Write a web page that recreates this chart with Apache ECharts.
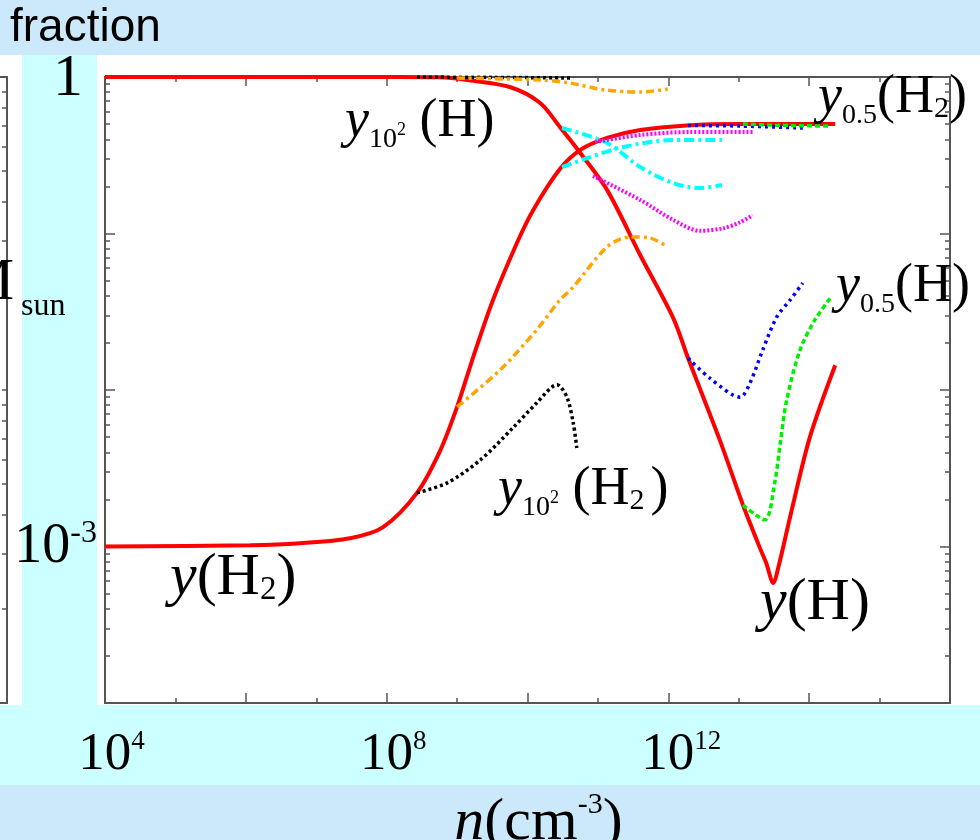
<!DOCTYPE html>
<html><head><meta charset="utf-8">
<script src="https://cdn.jsdelivr.net/npm/echarts@6/dist/echarts.min.js"></script>
<style>html,body{margin:0;padding:0;background:#fff}#c{width:980px;height:840px}</style>
</head><body><div id="c"></div>
<script>
// Each point: [log10 n (cm^-3), fraction]
const y_H2 = [[4.00,1.00e-3],[6.06,1.02e-3],[6.77,1.05e-3],[7.48,1.13e-3],[7.95,1.33e-3],[8.43,2.2e-3],[8.76,4.1e-3],[9.00,7.8e-3],[9.23,1.63e-2],[9.51,3.76e-2],[9.85,8.7e-2],[10.08,0.141],[10.46,0.258],[10.75,0.342],[11.13,0.408],[11.60,0.458],[12.26,0.490],[13.02,0.500],[14.37,0.500]];
const y_H = [[4.00,1.0],[8.19,1.0],[8.75,0.995],[9.14,0.957],[9.75,0.863],[10.18,0.682],[10.46,0.479],[10.75,0.327],[11.13,0.190],[11.60,0.0729],[12.07,0.0288],[12.28,0.0160],[12.73,4.8e-3],[13.06,1.84e-3],[13.30,9.8e-4],[13.39,7.85e-4],[13.49,5.85e-4],[13.57,7.6e-4],[13.73,1.55e-3],[14.01,5.0e-3],[14.37,1.44e-2]];
const black_H = [[8.43,1.0],[9.50,0.995],[10.65,0.985]];
const black_H2 = [[8.43,2.20e-3],[8.86,2.55e-3],[9.33,3.57e-3],[9.79,5.71e-3],[10.13,8.26e-3],[10.42,1.08e-2],[10.56,9.0e-3],[10.65,6.15e-3],[10.70,4.26e-3]];
const orange_H = [[9.00,0.985],[10.18,0.957],[10.60,0.916],[11.10,0.826],[11.60,0.802],[11.99,0.838]];
const orange_H2 = [[9.00,7.8e-3],[9.61,0.0134],[10.13,0.0242],[10.46,0.0376],[10.65,0.0455],[11.13,0.082],[11.46,0.095],[11.74,0.0936],[11.99,0.082]];
const cyan_H = [[10.49,0.472],[11.13,0.379],[11.60,0.266],[12.07,0.210],[12.45,0.195],[12.76,0.204]];
const cyan_H2 = [[10.49,0.266],[10.89,0.308],[11.36,0.357],[12.07,0.396],[12.76,0.396]];
const magenta_H2 = [[10.96,0.384],[11.60,0.426],[12.31,0.445],[13.20,0.445]];
const magenta_H = [[10.93,0.233],[11.60,0.164],[12.07,0.122],[12.45,0.104],[12.78,0.108],[13.02,0.118],[13.20,0.131]];
const blue_H2 = [[12.28,0.49],[13.02,0.486],[13.91,0.472]];
const blue_H = [[12.28,0.016],[12.59,0.0119],[13.02,9.0e-3],[13.16,0.0111],[13.34,0.018],[13.54,0.0293],[13.73,0.0376],[13.91,0.0483]];
const green_H2 = [[13.06,0.5],[13.70,0.49],[14.30,0.486]];
const green_H = [[13.06,1.84e-3],[13.37,1.48e-3],[13.51,2.55e-3],[13.59,4.58e-3],[13.68,8.6e-3],[13.87,0.018],[14.08,0.028],[14.30,0.0387]];

const xTickExp = [4, 8, 12];        // labelled x ticks: 10^4, 10^8, 10^12
const yTickExp = [0, -3];           // labelled y ticks: 1, 10^-3
const yMinorTicks = [];
for (let d = -4; d < 0; d++) for (let k = 2; k <= 9; k++) yMinorTicks.push(d + Math.log10(k));
const leftPlotTicks = [1];
for (let d = 0; d < 2; d++) for (let k = 2; k <= 9; k++) leftPlotTicks.push(d + Math.log10(k));

const serif = "'Liberation Serif','Times New Roman',serif";
const AX = '#555';

function mk(name, pts, color, width, type) {
  return {
    type: 'line', name, xAxisIndex: 0, yAxisIndex: 0,
    data: pts.map(p => [p[0], Math.log10(p[1])]),
    showSymbol: false, smooth: 0.3, silent: true,
    lineStyle: { color, width, type, cap: 'butt' }
  };
}

const series = [
  mk('y(H2)', y_H2, '#ff0000', 4, 'solid'),
  mk('y(H)', y_H, '#ff0000', 4, 'solid'),
  mk('y_1e2(H)', black_H, '#000000', 3.5, [3, 3]),
  mk('y_1e2(H2)', black_H2, '#000000', 3.5, [3, 3]),
  mk('orange H', orange_H, '#ffa500', 3.5, [8, 4, 3, 4]),
  mk('orange H2', orange_H2, '#ffa500', 3.5, [8, 4, 3, 4]),
  mk('cyan H', cyan_H, '#00ffff', 4, [10, 4, 3, 4]),
  mk('cyan H2', cyan_H2, '#00ffff', 4, [10, 4, 3, 4]),
  mk('magenta H2', magenta_H2, '#ff00ff', 4, [2, 2]),
  mk('magenta H', magenta_H, '#ff00ff', 4, [2, 2]),
  mk('y_0.5(H2) blue', blue_H2, '#0000ff', 3.5, [3, 4]),
  mk('y_0.5(H) blue', blue_H, '#0000ff', 3.5, [3, 4]),
  mk('y_0.5(H2) green', green_H2, '#00ee00', 3.5, [5, 3]),
  mk('y_0.5(H) green', green_H, '#00ee00', 3.5, [5, 3])
];

const tickLine = { color: AX, width: 1.5 };
const noLabel = { show: false };
const noSplit = { show: false };
const frameLine = { show: true, onZero: false, lineStyle: { color: AX, width: 2 } };

const chart = echarts.init(document.getElementById('c'), null, { renderer: 'canvas' });
const T = (o) => Object.assign({ fontFamily: serif, verticalAlign: 'top', lineHeight: 64, fill: '#000', color: '#000' }, o);
function annRich(f) {
  const k = f / 54;
  return {
    it: T({ fontStyle: 'italic', fontSize: f }),
    rm: T({ fontSize: f }),
    rp: T({ fontSize: f, padding: [0, 0, 0, Math.round(6 * k)] }),
    sub: T({ fontSize: Math.round(28 * k), padding: [Math.round(31 * k), 0, 0, 0] }),
    sup: T({ fontSize: Math.round(18 * k), padding: [Math.round(26 * k), 0, 0, 0] }),
    sub2: T({ fontSize: Math.round(30 * k), padding: [Math.round(23 * k), 0, 0, 0] })
  };
}
function ann(x, y, text, f) {
  const fs = f || 54;
  return { type: 'text', x, y: y + 32 - fs / 2, z: 100,
    style: { text, rich: annRich(fs), align: 'left', verticalAlign: 'middle', textAlign: 'left', textVerticalAlign: 'middle', fill: '#000' } };
}

chart.setOption({
  animation: false,
  backgroundColor: '#ffffff',
  grid: [
    { left: 105, top: 77, width: 845, height: 626, outerBoundsMode: 'none', containLabel: false },
    { left: 0, top: 77, width: 7, height: 626, outerBoundsMode: 'none', containLabel: false }
  ],
  xAxis: [
    { gridIndex: 0, type: 'value', min: 4, max: 16, interval: 2, position: 'bottom',
      axisLine: frameLine,
      axisTick: { show: true, inside: true, length: 10, lineStyle: tickLine },
      minorTick: { show: true, splitNumber: 2, length: 5, lineStyle: tickLine },
      splitLine: noSplit,
      axisLabel: { show: true, customValues: xTickExp, margin: 16,
        formatter: v => (String(v).length > 1 ? '{b2|10}{s|' + v + '}' : '{b1|10}{s|' + v + '}'),
        rich: {
          b1: T({ fontSize: 53, lineHeight: 62, padding: [10, 0, 0, 13] }),
          b2: T({ fontSize: 53, lineHeight: 62, padding: [10, 0, 0, 26] }),
          s: T({ fontSize: 27, lineHeight: 62, padding: [9, 0, 0, 0] })
        } },
      name: '{n|n}{r|(cm}{s|-3}{r|)}', nameLocation: 'middle', nameGap: 72,
      nameTextStyle: { padding: [0, 0, 0, 22], rich: {
        n: T({ fontStyle: 'italic', fontSize: 60, lineHeight: 72, padding: [6, 0, 0, 0] }),
        r: T({ fontSize: 60, lineHeight: 72, padding: [6, 0, 0, 0] }),
        s: T({ fontSize: 30, lineHeight: 72, padding: [3, 0, 0, 0] })
      } }
    },
    { gridIndex: 0, type: 'value', min: 4, max: 16, interval: 2, position: 'top',
      axisLine: frameLine,
      axisTick: { show: true, inside: true, length: 9, lineStyle: tickLine },
      minorTick: { show: true, splitNumber: 2, length: 5, lineStyle: tickLine },
      splitLine: noSplit, axisLabel: noLabel },
    { gridIndex: 1, type: 'value', min: 0, max: 1, position: 'bottom',
      axisLine: frameLine, axisTick: { show: false }, splitLine: noSplit, axisLabel: noLabel },
    { gridIndex: 1, type: 'value', min: 0, max: 1, position: 'top',
      axisLine: frameLine, axisTick: { show: false }, splitLine: noSplit, axisLabel: noLabel }
  ],
  yAxis: [
    { gridIndex: 0, type: 'value', min: -4, max: 0, interval: 1, position: 'left',
      axisLine: frameLine,
      axisTick: { show: true, inside: true, length: 10, lineStyle: tickLine },
      splitLine: noSplit,
      axisLabel: { show: true, customValues: yTickExp, margin: 8,
        formatter: v => (v === 0 ? '{one|1}' : '{b|10}{s|' + v + '}'),
        rich: {
          one: { fontFamily: serif, fontSize: 60, lineHeight: 60, color: '#000', padding: [4, 14, 0, 0] },
          b: T({ fontSize: 56, lineHeight: 70, padding: [8, 0, 0, 0] }),
          s: T({ fontSize: 32, lineHeight: 70, padding: [6, 0, 0, 0] })
        } } },
    { gridIndex: 0, type: 'value', min: -4, max: 0, position: 'left',
      axisLine: { show: false, onZero: false },
      axisTick: { show: true, inside: true, length: 5, customValues: yMinorTicks, lineStyle: tickLine },
      splitLine: noSplit, axisLabel: noLabel },
    { gridIndex: 0, type: 'value', min: -4, max: 0, interval: 1, position: 'right',
      axisLine: frameLine,
      axisTick: { show: true, inside: true, length: 10, lineStyle: tickLine },
      splitLine: noSplit, axisLabel: noLabel },
    { gridIndex: 0, type: 'value', min: -4, max: 0, position: 'right',
      axisLine: { show: false, onZero: false },
      axisTick: { show: true, inside: true, length: 5, customValues: yMinorTicks, lineStyle: tickLine },
      splitLine: noSplit, axisLabel: noLabel },
    { gridIndex: 1, type: 'value', min: 0, max: 2, position: 'right',
      axisLine: frameLine,
      axisTick: { show: true, inside: true, length: 5, customValues: leftPlotTicks, lineStyle: tickLine },
      splitLine: noSplit, axisLabel: noLabel }
  ],
  series,
  graphic: { elements: [
    { type: 'rect', z: -100, shape: { x: 0, y: 0, width: 980, height: 55 }, style: { fill: '#cce9fb' } },
    { type: 'rect', z: -100, shape: { x: 22, y: 55, width: 75, height: 651 }, style: { fill: '#ccffff' } },
    { type: 'rect', z: -100, shape: { x: 0, y: 705, width: 980, height: 80 }, style: { fill: '#ccffff' } },
    { type: 'rect', z: -100, shape: { x: 0, y: 785, width: 980, height: 55 }, style: { fill: '#cce9fb' } },
    { type: 'text', x: 10, y: 28, z: 100, style: { text: 'fraction', font: "46px 'Liberation Sans', Arial, sans-serif", fill: '#000', verticalAlign: 'middle', textVerticalAlign: 'middle' } },
    { type: 'text', x: 14, y: 283, z: 100, style: { text: 'M', font: "60px " + serif, fill: '#000', align: 'right', textAlign: 'right', verticalAlign: 'middle', textVerticalAlign: 'middle' } },
    { type: 'text', x: 21, y: 307, z: 100, style: { text: 'sun', font: "32px " + serif, fill: '#000', verticalAlign: 'middle', textVerticalAlign: 'middle' } },
    ann(345, 122, '{it|y}{sub|10}{sup|2}{rm| (H)}'),
    ann(818, 98, '{it|y}{sub|0.5}{rm|(H}{sub2|2}{rm|)}'),
    ann(836, 287, '{it|y}{sub|0.5}{rm|(H)}'),
    ann(498, 490, '{it|y}{sub|10}{sup|2}{rm| (H}{sub2|2}{rp|)}'),
    ann(170, 578, '{it|y}{rm|(H}{sub2|2}{rm|)}', 60),
    ann(760, 603, '{it|y}{rm|(H)}', 60)
  ] }
});
</script></body></html>
